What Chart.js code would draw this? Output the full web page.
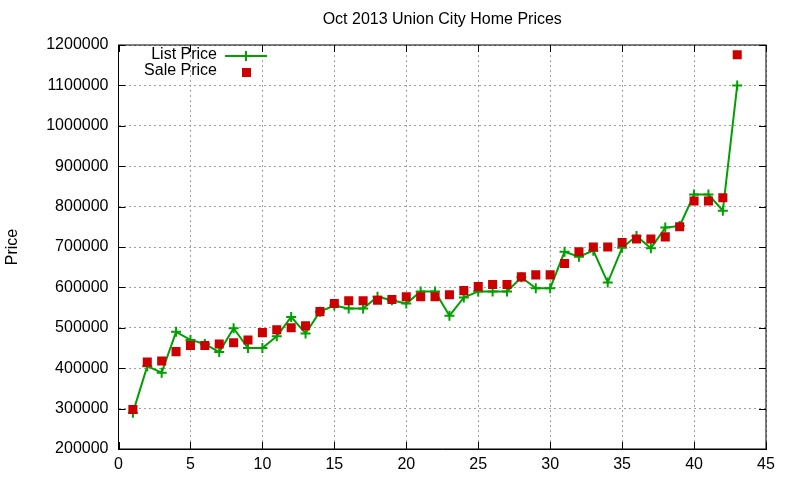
<!DOCTYPE html>
<html>
<head>
<meta charset="utf-8">
<title>Oct 2013 Union City Home Prices</title>
<script src="https://cdn.jsdelivr.net/npm/chart.js@4/dist/chart.umd.min.js"></script>
<style>
  html, body { margin: 0; padding: 0; background: #fff; }
  #wrap { width: 800px; height: 480px; }
</style>
</head>
<body>
<div id="wrap"><canvas id="priceChart" width="800" height="480"></canvas></div>
<script>
// ── Data ──────────────────────────────────────────────────────
const homeIndex = [1, 2, 3, 4, 5, 6, 7, 8, 9, 10, 11, 12, 13, 14, 15, 16, 17, 18, 19, 20,
    21, 22, 23, 24, 25, 26, 27, 28, 29, 30, 31, 32, 33, 34, 35, 36, 37, 38, 39, 40, 41, 42, 43];

const listPrice = [290000, 405000, 389000, 490000, 470000, 460000, 440000, 499000, 450000, 450000,
    479000, 527000, 486000, 540000, 555000, 548000, 548000, 577000, 568000, 560000,
    590000, 590000, 530000, 575000, 590000, 590000, 590000, 625000, 598000, 598000,
    688000, 676000, 691000, 612000, 698000, 727000, 697000, 748000, 752000, 830000,
    830000, 790000, 1100000];

const salePrice = [298000, 415000, 418000, 441000, 456000, 456000, 460000, 463000, 470000, 488000,
    495000, 500000, 505000, 540000, 560000, 567000, 567000, 568000, 570000, 577000,
    577000, 577000, 582000, 592000, 602000, 607000, 607000, 626000, 631000, 631000,
    659000, 688000, 700000, 700000, 711000, 720000, 720000, 725000, 750000, 814000,
    814000, 822000, 1176000];

const xTicks = [0, 5, 10, 15, 20, 25, 30, 35, 40, 45];
const yTicks = [200000, 300000, 400000, 500000, 600000, 700000, 800000, 900000, 1000000, 1100000, 1200000];

const chartTitle = 'Oct 2013 Union City Home Prices';
const yTitle = 'Price';
const FONT = '"Liberation Sans", Arial, sans-serif';
const GREEN = '#00a000';
const RED = '#cc0000';

// ── Gnuplot-ish decorations: title, box, inward ticks, legend ─
const gnuplotDeco = {
    id: 'gnuplotDeco',
    afterDraw(chart) {
        const { ctx, chartArea: a, scales } = chart;
        ctx.save();

        // frame
        ctx.strokeStyle = '#000';
        ctx.lineWidth = 1;
        ctx.strokeRect(a.left, a.top, a.right - a.left, a.bottom - a.top);

        // inward ticks on all four sides
        ctx.beginPath();
        xTicks.forEach(v => {
            const px = Math.round(scales.x.getPixelForValue(v)) + 0.5;
            ctx.moveTo(px, a.bottom); ctx.lineTo(px, a.bottom - 7);
            ctx.moveTo(px, a.top);    ctx.lineTo(px, a.top + 7);
        });
        yTicks.forEach(v => {
            const py = Math.round(scales.y.getPixelForValue(v)) + 0.5;
            ctx.moveTo(a.left, py);  ctx.lineTo(a.left + 7, py);
            ctx.moveTo(a.right, py); ctx.lineTo(a.right - 7, py);
        });
        ctx.stroke();

        // title
        ctx.fillStyle = '#000';
        ctx.font = `16px ${FONT}`;
        ctx.textAlign = 'center';
        ctx.textBaseline = 'middle';
        ctx.fillText(chartTitle, (a.left + a.right) / 2, 20);

        // y axis title
        ctx.save();
        ctx.translate(13, 247);
        ctx.rotate(-Math.PI / 2);
        ctx.font = `16px ${FONT}`;
        ctx.fillText(yTitle, 0, 0);
        ctx.restore();

        // legend
        ctx.font = `16px ${FONT}`;
        ctx.textAlign = 'right';
        ctx.fillText('List Price', 217, 55);
        ctx.fillText('Sale Price', 217, 71);

        ctx.strokeStyle = GREEN;
        ctx.lineWidth = 2;
        ctx.beginPath();
        ctx.moveTo(225, 56); ctx.lineTo(267, 56);
        ctx.moveTo(246, 51); ctx.lineTo(246, 61);
        ctx.stroke();

        ctx.fillStyle = RED;
        ctx.fillRect(242, 68, 9, 9);

        ctx.restore();
    }
};

// ── Chart ─────────────────────────────────────────────────────
const ctx = document.getElementById('priceChart').getContext('2d');

new Chart(ctx, {
    type: 'line',
    data: {
        datasets: [
            {
                label: 'List Price',
                data: homeIndex.map((x, i) => ({ x, y: listPrice[i] })),
                borderColor: GREEN,
                backgroundColor: GREEN,
                borderWidth: 2,
                tension: 0,
                pointStyle: 'cross',
                pointRadius: 5,
                pointBorderWidth: 2,
                pointBorderColor: GREEN,
                order: 2,
            },
            {
                label: 'Sale Price',
                data: homeIndex.map((x, i) => ({ x, y: salePrice[i] })),
                showLine: false,
                pointStyle: 'rect',
                pointRadius: 6.4,
                pointBorderWidth: 0,
                backgroundColor: RED,
                borderColor: RED,
                order: 1,
            }
        ]
    },
    options: {
        responsive: false,
        animation: false,
        events: [],
        layout: { padding: { left: 0, right: 34, top: 45, bottom: 0 } },
        plugins: {
            legend: { display: false },
            title: { display: false },
            tooltip: { enabled: false }
        },
        scales: {
            x: {
                type: 'linear',
                min: 0,
                max: 45,
                afterBuildTicks: s => { s.ticks = xTicks.map(value => ({ value })); },
                afterFit: s => { s.height = 31; },
                grid: { color: '#a0a0a0', lineWidth: 1, drawTicks: false },
                border: { display: true, color: '#000', width: 1, dash: [2, 3] },
                ticks: {
                    color: '#000',
                    font: { family: FONT, size: 16 },
                    padding: 6,
                    maxRotation: 0,
                }
            },
            y: {
                type: 'linear',
                min: 200000,
                max: 1200000,
                afterBuildTicks: s => { s.ticks = yTicks.map(value => ({ value })); },
                afterFit: s => { s.width = 118.5; },
                grid: { color: '#a0a0a0', lineWidth: 1, drawTicks: false },
                border: { display: true, color: '#000', width: 1, dash: [2, 3] },
                ticks: {
                    color: '#000',
                    font: { family: FONT, size: 16 },
                    padding: 10,
                    callback: v => String(v)
                }
            }
        }
    },
    plugins: [gnuplotDeco]
});
</script>
</body>
</html>
